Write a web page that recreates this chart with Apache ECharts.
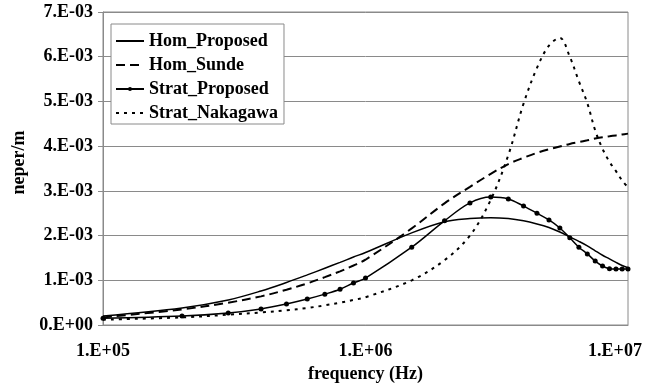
<!DOCTYPE html>
<html>
<head>
<meta charset="utf-8">
<script src="https://cdn.jsdelivr.net/npm/echarts@6/dist/echarts.min.js"></script>
<style>
html,body{margin:0;padding:0;background:#fff;}
#chart{width:654px;height:389px;}
</style>
</head>
<body>
<div id="chart"></div>
<script>
// ---- data ----
var frequencies = [1e5, 2e5, 3e5, 4e5, 5e5, 6e5, 7e5, 8e5, 9e5,
  1e6, 1.5e6, 2e6, 2.5e6, 3e6, 3.5e6, 4e6, 4.5e6, 5e6, 5.5e6, 6e6,
  6.5e6, 7e6, 7.5e6, 8e6, 8.5e6, 9e6, 9.5e6, 1e7];

var homProposed = [0.20e-3, 0.38e-3, 0.56e-3, 0.76e-3, 0.95e-3, 1.12e-3, 1.27e-3, 1.40e-3, 1.52e-3,
  1.62e-3, 2.06e-3, 2.31e-3, 2.38e-3, 2.40e-3, 2.38e-3, 2.33e-3, 2.26e-3, 2.18e-3, 2.08e-3, 1.97e-3,
  1.87e-3, 1.77e-3, 1.66e-3, 1.56e-3, 1.48e-3, 1.40e-3, 1.33e-3, 1.28e-3];

var homSunde = [0.17e-3, 0.35e-3, 0.50e-3, 0.64e-3, 0.79e-3, 0.93e-3, 1.07e-3, 1.20e-3, 1.33e-3,
  1.46e-3, 2.16e-3, 2.72e-3, 3.09e-3, 3.38e-3, 3.60e-3, 3.74e-3, 3.85e-3, 3.93e-3, 3.99e-3, 4.05e-3,
  4.09e-3, 4.13e-3, 4.17e-3, 4.20e-3, 4.22e-3, 4.24e-3, 4.26e-3, 4.28e-3];

var stratProposed = [0.15e-3, 0.20e-3, 0.27e-3, 0.36e-3, 0.47e-3, 0.58e-3, 0.69e-3, 0.80e-3, 0.94e-3,
  1.05e-3, 1.74e-3, 2.33e-3, 2.73e-3, 2.86e-3, 2.82e-3, 2.66e-3, 2.50e-3, 2.35e-3, 2.17e-3, 1.95e-3,
  1.74e-3, 1.59e-3, 1.43e-3, 1.32e-3, 1.26e-3, 1.25e-3, 1.25e-3, 1.25e-3];

var stratNakagawa = [0.12e-3, 0.17e-3, 0.23e-3, 0.28e-3, 0.33e-3, 0.38e-3, 0.44e-3, 0.50e-3, 0.56e-3,
  0.62e-3, 1.00e-3, 1.45e-3, 2.00e-3, 2.80e-3, 3.80e-3, 4.95e-3, 5.75e-3, 6.25e-3, 6.42e-3, 6.00e-3,
  5.45e-3, 4.96e-3, 4.35e-3, 3.94e-3, 3.65e-3, 3.44e-3, 3.23e-3, 3.08e-3];

var seriesNames = ['Hom_Proposed', 'Hom_Sunde', 'Strat_Proposed', 'Strat_Nakagawa'];
var xTickLabels = ['1.E+05', '1.E+06', '1.E+07'];
var yTickLabels = ['0.E+00', '1.E-03', '2.E-03', '3.E-03', '4.E-03', '5.E-03', '6.E-03', '7.E-03'];
var xAxisTitle = 'frequency (Hz)';
var yAxisTitle = 'neper/m';

// ---- chart ----
function pairs(ys) {
  return frequencies.map(function (f, i) { return [f, ys[i]]; });
}
var FONT = '"Liberation Serif", "Times New Roman", serif';
var GRID_COLOR = '#8a8a8a';

var chart = echarts.init(document.getElementById('chart'), null, {renderer: 'canvas'});
chart.setOption({
  animation: false,
  backgroundColor: '#fff',
  grid: {
    left: 103, right: 26, top: 12, bottom: 64,
    show: true, borderColor: GRID_COLOR, borderWidth: 1, backgroundColor: 'transparent'
  },
  legend: {
    data: [
      {name: seriesNames[0], itemStyle: {opacity: 0}},
      {name: seriesNames[1], itemStyle: {opacity: 0}},
      {name: seriesNames[2]},
      {name: seriesNames[3], itemStyle: {opacity: 0}}
    ],
    orient: 'vertical',
    left: 111, top: 24,
    padding: [8, 6, 2, 4],
    itemWidth: 28, itemHeight: 5, itemGap: 6,
    borderColor: GRID_COLOR, borderWidth: 1,
    backgroundColor: '#fff',
    textStyle: {fontFamily: FONT, fontWeight: 'bold', fontSize: 18, color: '#000'}
  },
  xAxis: {
    type: 'log', logBase: 10, min: 1e5, max: 1e7,
    name: xAxisTitle, nameLocation: 'middle', nameGap: 28,
    nameTextStyle: {fontFamily: FONT, fontWeight: 'bold', fontSize: 18, color: '#000'},
    axisLine: {show: true, lineStyle: {color: GRID_COLOR, width: 1}},
    axisTick: {show: false},
    splitLine: {show: false},
    minorTick: {show: false},
    axisLabel: {
      margin: 17,
      fontFamily: FONT, fontWeight: 'bold', fontSize: 18, color: '#000',
      formatter: function (v) {
        var idx = Math.round(Math.log10(v)) - 5;
        var t = xTickLabels[idx] || '';
        return idx === xTickLabels.length - 1 ? '{r|' + t + '}' : t;
      },
      rich: {r: {fontFamily: FONT, fontWeight: 'bold', fontSize: 18, color: '#000', padding: [0, 26, 0, 0]}}
    }
  },
  yAxis: {
    type: 'value', min: 0, max: 0.007, interval: 0.001,
    name: yAxisTitle, nameLocation: 'middle', nameGap: 70, nameRotate: 90,
    nameTextStyle: {fontFamily: FONT, fontWeight: 'bold', fontSize: 18, color: '#000', padding: [0, 0, 0, 12]},
    axisLine: {show: true, lineStyle: {color: GRID_COLOR, width: 1}},
    axisTick: {show: true, length: 5, lineStyle: {color: GRID_COLOR}},
    splitLine: {show: true, lineStyle: {color: GRID_COLOR, width: 1}},
    axisLabel: {
      margin: 10,
      fontFamily: FONT, fontWeight: 'bold', fontSize: 18, color: '#000',
      formatter: function (v) { return yTickLabels[Math.round(v / 0.001)] || ''; }
    }
  },
  series: [
    {
      name: seriesNames[0], type: 'line', data: pairs(homProposed),
      smooth: 0.35, symbol: 'none',
      lineStyle: {color: '#000', width: 1.5, type: 'solid'},
      itemStyle: {color: '#000'}
    },
    {
      name: seriesNames[1], type: 'line', data: pairs(homSunde),
      smooth: 0.35, symbol: 'none',
      lineStyle: {color: '#000', width: 2, type: [9, 5]},
      itemStyle: {color: '#000'}
    },
    {
      name: seriesNames[2], type: 'line', data: pairs(stratProposed),
      smooth: 0.35, symbol: 'circle', symbolSize: 5, showSymbol: true,
      lineStyle: {color: '#000', width: 1.5, type: 'solid'},
      itemStyle: {color: '#000'}
    },
    {
      name: seriesNames[3], type: 'line', data: pairs(stratNakagawa),
      smooth: 0.35, symbol: 'none',
      lineStyle: {color: '#000', width: 2, type: [3, 5]},
      itemStyle: {color: '#000'}
    }
  ]
});
</script>
</body>
</html>
